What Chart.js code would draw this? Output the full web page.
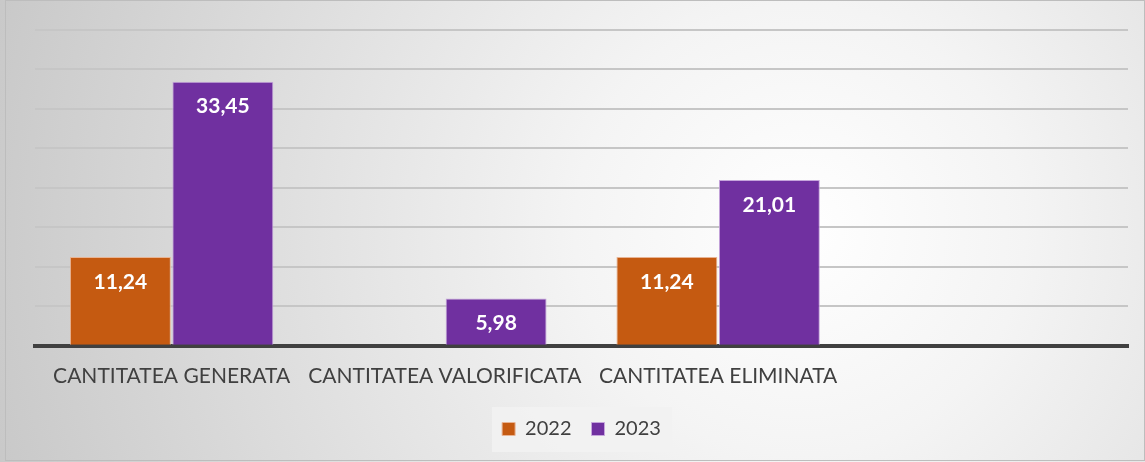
<!DOCTYPE html>
<html><head><meta charset="utf-8">
<script src="https://cdn.jsdelivr.net/npm/chart.js@4"></script>
<style>html,body{margin:0;padding:0;background:#fff}#wrap{width:1145px;height:462px}</style>
</head><body><div id="wrap"><canvas id="c" width="1145" height="462"></canvas></div>
<script>
const categories = ["CANTITATEA GENERATA", "CANTITATEA VALORIFICATA", "CANTITATEA ELIMINATA", ""];
const values2022 = [11.24, null, 11.24, null];
const values2023 = [33.45, 5.98, 21.01, null];
const seriesNames = ["2022", "2023"];
const yTicks = [0, 5, 10, 15, 20, 25, 30, 35, 40];

const fontFam = "Lato, 'Open Sans', sans-serif";

const bgPlugin = {
  id: 'bg',
  beforeDraw(chart) {
    const ctx = chart.ctx, w = chart.width, h = chart.height;
    ctx.save();
    const g = ctx.createRadialGradient(800, 230, 0, 800, 230, 900);
    g.addColorStop(0, '#ffffff');
    g.addColorStop(0.25, '#f4f4f4');
    g.addColorStop(1, '#c4c4c4');
    ctx.fillStyle = g;
    ctx.fillRect(0, 0, w, h);
    ctx.strokeStyle = '#bdbdbd';
    ctx.lineWidth = 1;
    ctx.strokeRect(5.5, 0.5, w - 6, h - 2);
    ctx.fillStyle = 'rgba(242,242,242,0.9)';
    ctx.fillRect(492, 407, 180, 45);
    ctx.restore();
  }
};

const labelPlugin = {
  id: 'vlabels',
  afterDatasetsDraw(chart) {
    const ctx = chart.ctx;
    ctx.save();
    ctx.font = "bold 21px " + fontFam;
    ctx.fillStyle = '#ffffff';
    ctx.textAlign = 'center';
    ctx.textBaseline = 'middle';
    chart.data.datasets.forEach((ds, i) => {
      const meta = chart.getDatasetMeta(i);
      meta.data.forEach((bar, j) => {
        const v = ds.data[j];
        if (v == null) return;
        ctx.fillText(v.toFixed(2).replace('.', ','), bar.x, bar.y + 25);
      });
    });
    ctx.restore();
  }
};

new Chart(document.getElementById('c'), {
  type: 'bar',
  data: {
    labels: categories,
    datasets: [
      { label: seriesNames[0], data: values2022, backgroundColor: '#C55A11', borderColor: '#e8b494', borderWidth: 1 },
      { label: seriesNames[1], data: values2023, backgroundColor: '#7030A0', borderColor: '#c6a6dc', borderWidth: 1 }
    ]
  },
  options: {
    responsive: false,
    animation: false,
    devicePixelRatio: 1,
    layout: { padding: { left: 35, right: 17, top: 30, bottom: 13 } },
    datasets: { bar: { categoryPercentage: 0.75, barPercentage: 0.985 } },
    plugins: {
      legend: {
        position: 'bottom',
        labels: {
          font: { family: fontFam, size: 20 },
          color: '#404040',
          boxWidth: 13, boxHeight: 13,
          padding: 20
        }
      },
      tooltip: { enabled: false }
    },
    scales: {
      x: {
        grid: { display: false },
        border: { display: true, color: '#404040', width: 4 },
        ticks: { font: { family: fontFam, size: 21 }, color: '#404040', padding: 10, maxRotation: 0, autoSkip: false }
      },
      y: {
        min: yTicks[0], max: yTicks[yTicks.length - 1],
        afterBuildTicks(scale) { scale.ticks = yTicks.map(v => ({ value: v })); },
        ticks: { display: false },
        border: { display: false },
        grid: { color: '#c6c6c6', lineWidth: 2, drawTicks: false }
      }
    }
  },
  plugins: [bgPlugin, labelPlugin]
});
</script></body></html>
